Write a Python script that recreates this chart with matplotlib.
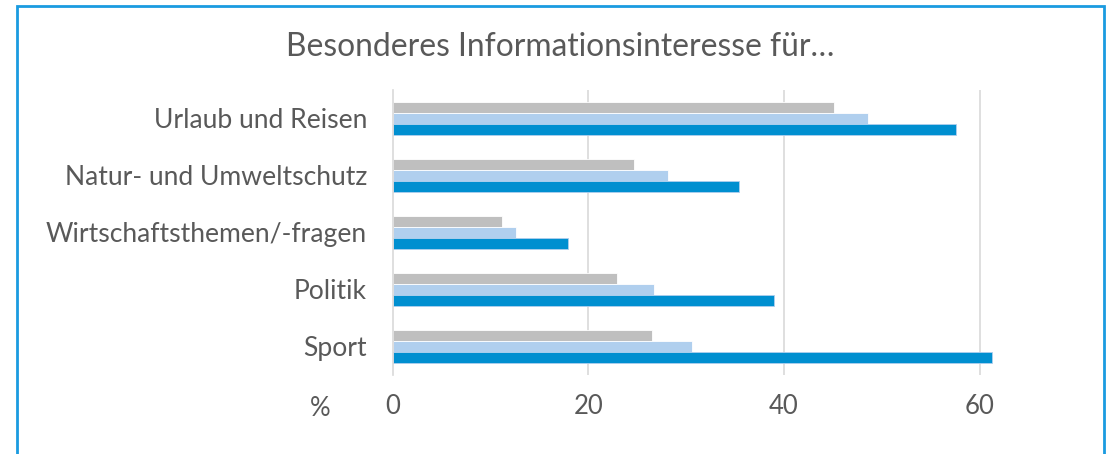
import numpy as np
import matplotlib.pyplot as plt
from matplotlib.patches import Rectangle

kategorien = ['Urlaub und Reisen', 'Natur- und Umweltschutz', 'Wirtschaftsthemen/-fragen',
              'Politik', 'Sport']
serie_grau = [45.1, 24.7, 11.2, 22.9, 26.5]
serie_hell = [48.6, 28.1, 12.6, 26.7, 30.6]
serie_dunkel = [57.6, 35.4, 17.9, 39.0, 61.3]
x_ticks = [0, 20, 40, 60]

plt.rcParams['font.family'] = ['Lato', 'DejaVu Sans']
textfarbe = '#595959'

fig = plt.figure(figsize=(11.13, 4.54), dpi=100)
ax = fig.add_axes([0.353, 0.174, 0.571, 0.628])

y = np.arange(len(kategorien))
h = 0.193
ax.barh(y - h, serie_grau, height=h, color='#BFBFBF', edgecolor='white', linewidth=0.6)
ax.barh(y, serie_hell, height=h, color='#B0CFEE', edgecolor='white', linewidth=0.6)
ax.barh(y + h, serie_dunkel, height=h, color='#008FD0', edgecolor='#B0CFEE', linewidth=0.6)

ax.set_ylim(len(kategorien) - 0.5, -0.5)
ax.set_xlim(0, 65)
ax.set_yticks(y)
ax.set_yticklabels(kategorien, fontsize=19.1, color=textfarbe)
ax.set_xticks(x_ticks)
ax.set_xticklabels([str(t) for t in x_ticks], fontsize=18.5, color=textfarbe)
ax.tick_params(length=0, pad=18.7, axis='y')
ax.tick_params(length=0, pad=14, axis='x')
for s in ['top', 'right', 'bottom']:
    ax.spines[s].set_visible(False)
ax.spines['left'].set_color('#D9D9D9')
ax.spines['left'].set_linewidth(1.2)
for t in x_ticks[1:]:
    ax.axvline(t, color='#D9D9D9', linewidth=1.2, zorder=0)

fig.text(320 / 1113, 1 - 409 / 454, '%', fontsize=18.5, color=textfarbe, ha='center', va='center')
fig.text(560 / 1113, 1 - 47 / 454, 'Besonderes Informationsinteresse für…', fontsize=22.9,
         color=textfarbe, ha='center', va='center')

# blauer Rahmen
fig.patches.append(Rectangle((16.5 / 1113, -0.1), (1104 - 16.5) / 1113, 1.1 - 6.5 / 454,
                             transform=fig.transFigure, fill=False, edgecolor='#1A9BE0',
                             linewidth=2))

fig.savefig('out.png', dpi=100)
